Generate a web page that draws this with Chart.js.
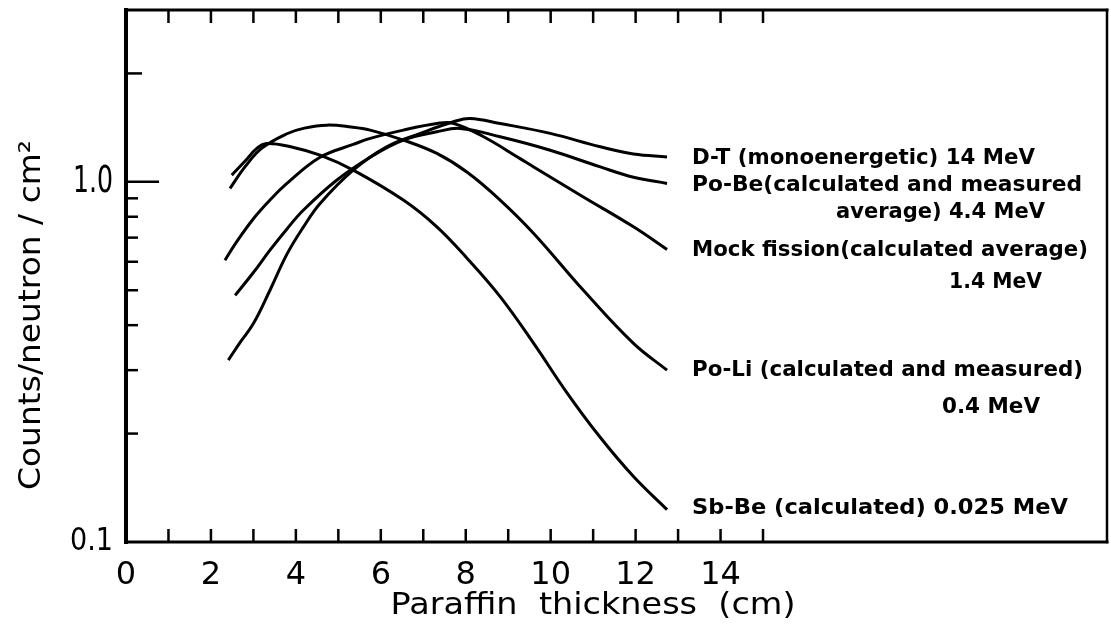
<!DOCTYPE html>
<html><head><meta charset="utf-8">
<script src="https://cdn.jsdelivr.net/npm/chart.js@4.4.0/dist/chart.umd.min.js"></script>
<style>html,body{margin:0;padding:0;background:#fff;}#wrap{width:1111px;height:627px;}</style>
</head><body><div id="wrap"><canvas id="c" width="1111" height="627"></canvas></div>
<script>
// ---- data (paraffin thickness in cm, counts per neutron/cm^2) ----
const dtX   = [2.41, 2.7, 3.0, 3.39, 3.79, 4.18, 4.57, 5.35, 6.14, 6.93, 7.71, 8.1, 8.81, 9.99, 11.17, 11.95, 12.74];
const dtY   = [0.32, 0.36, 0.404, 0.50, 0.63, 0.75, 0.871, 1.078, 1.251, 1.363, 1.468, 1.50, 1.452, 1.363, 1.251, 1.194, 1.173];
const pobeX = [2.57, 3.0, 3.39, 3.79, 4.18, 4.96, 5.75, 6.53, 7.32, 7.87, 8.81, 9.99, 11.17, 11.95, 12.74];
const pobeY = [0.484, 0.56, 0.646, 0.74, 0.835, 1.01, 1.17, 1.306, 1.377, 1.407, 1.334, 1.224, 1.10, 1.03, 0.99];
const mockX = [2.33, 2.6, 3.0, 3.39, 3.79, 4.57, 5.35, 5.75, 6.53, 7.32, 7.7, 8.42, 9.28, 9.6, 10.77, 11.95, 12.74];
const mockY = [0.606, 0.68, 0.79, 0.89, 0.99, 1.17, 1.27, 1.32, 1.392, 1.452, 1.455, 1.334, 1.16, 1.10, 0.908, 0.75, 0.649];
const poliX = [2.45, 2.8, 3.2, 3.79, 4.2, 4.73, 5.3, 5.75, 6.53, 7.32, 8.05, 8.81, 9.6, 10.77, 11.95, 12.74];
const poliY = [0.959, 1.10, 1.24, 1.36, 1.41, 1.437, 1.42, 1.392, 1.306, 1.199, 1.06, 0.89, 0.719, 0.50, 0.356, 0.30];
const sbbeX = [2.49, 2.8, 3.08, 3.31, 3.9, 4.57, 5.35, 6.53, 7.32, 8.05, 8.81, 9.6, 10.38, 11.17, 11.95, 12.74];
const sbbeY = [1.044, 1.14, 1.238, 1.278, 1.25, 1.186, 1.078, 0.89, 0.75, 0.61, 0.48, 0.356, 0.26, 0.195, 0.152, 0.123];

const seriesNames = ['D-T 14 MeV', 'Po-Be 4.4 MeV', 'Mock fission 1.4 MeV', 'Po-Li 0.4 MeV', 'Sb-Be 0.025 MeV'];

// ---- axes ----
const xTickValues = [0,1,2,3,4,5,6,7,8,9,10,11,12,13,14,15];
const xTickLabels = ['0','','2','','4','','6','','8','','10','','12','','14',''];
const yTickValues = [0.2,0.3,0.4,0.5,0.6,0.7,0.8,0.9,1,2];
const yLabelValues = [1, 0.1];
const yLabelTexts  = ['1.0', '0.1'];
const xTitle = 'Paraffin  thickness  (cm)';
const yTitle = 'Counts/neutron / cm\u00B2';

// ---- curve annotation texts ----
const noteTexts = [
  'D-T (monoenergetic) 14 MeV',
  'Po-Be(calculated and measured',
  'average) 4.4 MeV',
  'Mock fission(calculated average)',
  '1.4 MeV',
  'Po-Li (calculated and measured)',
  '0.4 MeV',
  'Sb-Be (calculated) 0.025 MeV'
];
// layout of annotations: [left px, centre y px, width px]
const noteLayout = [
  [692,158,343],[692,185,390],[836,212,209],[692,250,396],
  [949,282,93],[692,370,391],[942,407,98],[692,508,376]
];

function pts(xs, ys){ return xs.map((x,i)=>({x:x, y:ys[i]})); }
const allX = [dtX,pobeX,mockX,poliX,sbbeX];
const allY = [dtY,pobeY,mockY,poliY,sbbeY];

function seg(ctx,x1,y1,x2,y2,w){ ctx.lineWidth=w; ctx.beginPath(); ctx.moveTo(x1,y1); ctx.lineTo(x2,y2); ctx.stroke(); }
function txt(ctx,t,x,y,font,w,align,rot){
  ctx.save(); ctx.font=font; ctx.textBaseline='middle'; ctx.textAlign='left'; ctx.fillStyle='#000';
  const m = ctx.measureText(t).width; const s = w/m;
  ctx.translate(x,y); if(rot) ctx.rotate(rot);
  let ox = 0; if(align==='center') ox = -w/2; else if(align==='right') ox = -w;
  ctx.translate(ox,0); ctx.scale(s,1); ctx.fillText(t,0,0); ctx.restore();
}

const decor = {
  id:'decor',
  afterDatasetsDraw(chart){
    const ctx=chart.ctx, a=chart.chartArea, xs=chart.scales.x, ys=chart.scales.y;
    ctx.save(); ctx.strokeStyle='#000'; ctx.lineCap='square';
    seg(ctx,a.left,a.top,a.left,a.bottom,4);
    seg(ctx,a.left,a.top,a.right,a.top,3);
    seg(ctx,a.right,a.top,a.right,a.bottom,2.5);
    seg(ctx,a.left,a.bottom,a.right,a.bottom,3);
    ctx.lineCap='butt';
    xTickValues.forEach(v=>{ if(v===0) return; const p=xs.getPixelForValue(v);
      seg(ctx,p,a.bottom,p,a.bottom-13,2.5); seg(ctx,p,a.top,p,a.top+13,2.5); });
    yTickValues.forEach(v=>{ const p=ys.getPixelForValue(v); const L = v===1?33:(v===2?16:12);
      seg(ctx,a.left,p,a.left+L,p,2.5); });
    ctx.restore();
    // y labels
    yLabelValues.forEach((v,i)=>{ const p=ys.getPixelForValue(v);
      const big = v===1;
      txt(ctx,yLabelTexts[i],a.left-13,p,(big?'38px':'32px')+' "DejaVu Sans"',big?40:43,'right'); });
    // titles
    txt(ctx,xTitle,593,606,'30px "DejaVu Sans"',405,'center');
    txt(ctx,yTitle,32,315,'30px "DejaVu Sans"',350,'center',-Math.PI/2);
    // notes
    noteTexts.forEach((t,i)=>{ const L=noteLayout[i]; txt(ctx,t,L[0],L[1],'bold 22px "DejaVu Sans"',L[2],'left'); });
  }
};

new Chart(document.getElementById('c'), {
  type:'scatter',
  data:{ datasets: seriesNames.map((n,i)=>({
    label:n, data:pts(allX[i],allY[i]), showLine:true, borderColor:'#000', backgroundColor:'#000',
    borderWidth:3, pointRadius:0, tension:0.4, fill:false })) },
  options:{
    responsive:false, animation:false, devicePixelRatio:1,
    layout:{padding:{left:0,right:4,top:10,bottom:0}},
    plugins:{legend:{display:false}, tooltip:{enabled:false}},
    scales:{
      x:{ type:'linear', min:0, max:23.1,
        afterBuildTicks:s=>{ s.ticks = xTickValues.map(v=>({value:v})); },
        afterFit:s=>{ s.height = 85; },
        grid:{display:false}, border:{display:false},
        ticks:{ autoSkip:false, maxRotation:0, padding:6, color:'#000',
          font:{family:'DejaVu Sans', size:32},
          callback:(v)=>{ const i=xTickValues.indexOf(v); return i>=0?xTickLabels[i]:''; } } },
      y:{ type:'logarithmic', min:0.1, max:3,
        afterBuildTicks:s=>{ s.ticks = yTickValues.map(v=>({value:v})); },
        afterFit:s=>{ s.width = 126; },
        grid:{display:false}, border:{display:false},
        ticks:{ display:false } }
    }
  },
  plugins:[decor]
});
</script></body></html>
